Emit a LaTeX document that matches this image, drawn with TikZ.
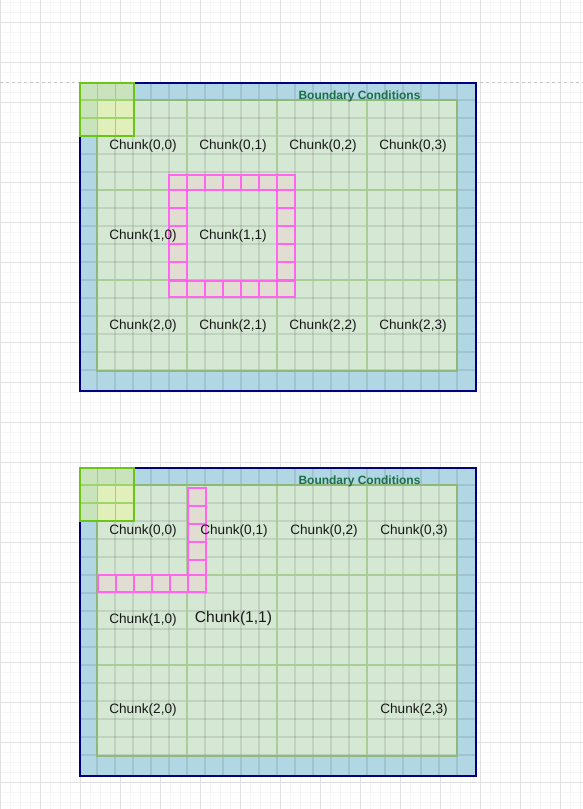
\documentclass[tikz,border=0pt]{standalone}
\usepackage{fontspec}
\setmainfont{Liberation Sans}
\definecolor{gridmajor}{RGB}{224,224,224}
\definecolor{gridminor}{RGB}{245,245,245}
\definecolor{bcblue}{RGB}{176,215,227}
\definecolor{chunkfill}{RGB}{213,232,212}
\definecolor{chunkline}{RGB}{170,205,150}
\definecolor{greenedge}{RGB}{143,184,122}
\definecolor{navyline}{RGB}{0,0,128}
\definecolor{cornerout}{RGB}{201,228,189}
\definecolor{cornerin}{RGB}{225,239,187}
\definecolor{cornerln}{RGB}{159,211,107}
\definecolor{cornerbox}{RGB}{108,196,23}
\definecolor{haloline}{RGB}{255,102,238}
\definecolor{halofill}{RGB}{226,221,211}
\definecolor{bctext}{RGB}{28,110,71}
\tikzset{
  minorgrid/.style={gridminor,line width=0.8pt},
  majorgrid/.style={gridmajor,line width=1pt},
  chunkbox/.style={fill=chunkfill},
  chunkedge/.style={draw=chunkline,line width=1.5pt},
  greenframe/.style={draw=greenedge,line width=2pt},
  cellgrid/.style={draw=black,draw opacity=0.09,line width=1.1pt},
  navyframe/.style={draw=navyline,line width=2pt},
  halo/.style={fill=halofill,draw=haloline,line width=2pt},
  chunklabel/.style={anchor=base,inner sep=0pt,text=black!90,font=\fontsize{13.6}{16}\selectfont},
  biglabel/.style={anchor=base,inner sep=0pt,text=black!90,font=\fontsize{15.6}{18}\selectfont},
  bclabel/.style={anchor=base,inner sep=0pt,text=bctext,font=\bfseries\fontsize{12}{14}\selectfont},
}
\newcommand\drawpanel[1]{%
  \fill[bcblue] (80,82.5) rectangle (476,390.5);
  \fill[chunkbox] (97,100) rectangle (457,370);
  \foreach \i in {1,...,21}{\draw[cellgrid] ({79+18*\i},82.5) -- ({79+18*\i},390.5);}
  \foreach \j in {1,...,16}{\draw[cellgrid] (80,{82+18*\j}) -- (476,{82+18*\j});}
  \foreach \c in {1,2,3}{\draw[chunkedge] ({97+90*\c},100) -- ({97+90*\c},370);}
  \foreach \r in {1,2}{\draw[chunkedge] (97,{100+90*\r}) -- (457,{100+90*\r});}
  \draw[greenframe] (97,100) rectangle (457,370.5);
  \draw[navyframe] (80,82.5) rectangle (476,390.5);
  \fill[cornerout] (80,82.5) rectangle (133.5,135.5);
  \fill[cornerin] (97,100) rectangle (133.5,135.5);
  \draw[cornerln,line width=1.5pt] (97.5,82.5) -- (97.5,135.5) (115.5,82.5) -- (115.5,135.5)
       (80,100) -- (133.5,100) (80,118) -- (133.5,118);
  \draw[cornerbox,line width=2pt] (80,82.5) rectangle (133.5,135.5);
  \node[bclabel] (bc#1) at (359.5,99) {Boundary Conditions};
}
\begin{document}
\begin{tikzpicture}[x=1pt,y=-1pt]
\useasboundingbox (0,0) rectangle (583,809);
\fill[white] (0,0) rectangle (583,809);
% background grid
\foreach \x in {10,20,...,580}{\draw[minorgrid] (\x,0) -- (\x,809);}
\foreach \y in {2,12,...,802}{\draw[minorgrid] (0,\y) -- (583,\y);}
\foreach \x in {0,40,...,560}{\draw[majorgrid] (\x,0) -- (\x,809);}
\foreach \y in {22,62,...,782}{\draw[majorgrid] (0,\y) -- (583,\y);}
% dashed guide
\coordinate (gl) at (0,82);
\coordinate (gr) at (583,82);
\draw[black!22,dashed,dash pattern=on 3pt off 3pt,line width=0.8pt] (gl) -- (gr);

% ---------- top panel ----------
\drawpanel{a}
\foreach \k in {0,...,6}{
  \filldraw[halo] ({169+18*\k},175) rectangle +(18,15);
  \filldraw[halo] ({169+18*\k},280.5) rectangle +(18,16);}
\foreach \k in {0,...,4}{
  \filldraw[halo] (169,{190+18*\k}) rectangle +(18,18);
  \filldraw[halo] (277,{190+18*\k}) rectangle +(18,18);}
\foreach \c in {0,...,3}{
  \node[chunklabel] (a0\c) at ({143+90*\c},149) {Chunk(0,\c)};
  \node[chunklabel] (a2\c) at ({143+90*\c},329) {Chunk(2,\c)};}
\node[chunklabel] (a10) at (143,239) {Chunk(1,0)};
\node[chunklabel] (a11) at (233,239) {Chunk(1,1)};

% ---------- bottom panel ----------
\begin{scope}[shift={(0,385)}]
\drawpanel{b}
\foreach \k in {0,...,3}{
  \filldraw[halo] (188,{103+18*\k}) rectangle +(18,18);}
\filldraw[halo] (188,175) rectangle +(18,15);
\foreach \k in {0,...,5}{
  \filldraw[halo] ({98+18*\k},190) rectangle +(18,17);}
\node[chunklabel] (b00) at (143,149) {Chunk(0,0)};
\node[chunklabel] (b01) at (234,149) {Chunk(0,1)};
\node[chunklabel] (b02) at (324,149) {Chunk(0,2)};
\node[chunklabel] (b03) at (414,149) {Chunk(0,3)};
\node[chunklabel] (b10) at (143,238.5) {Chunk(1,0)};
\node[biglabel] (b11) at (233.5,237.5) {Chunk(1,1)};
\node[chunklabel] (b20) at (143,328.5) {Chunk(2,0)};
\node[chunklabel] (b23) at (414,328.5) {Chunk(2,3)};
\end{scope}
\end{tikzpicture}
\end{document}
